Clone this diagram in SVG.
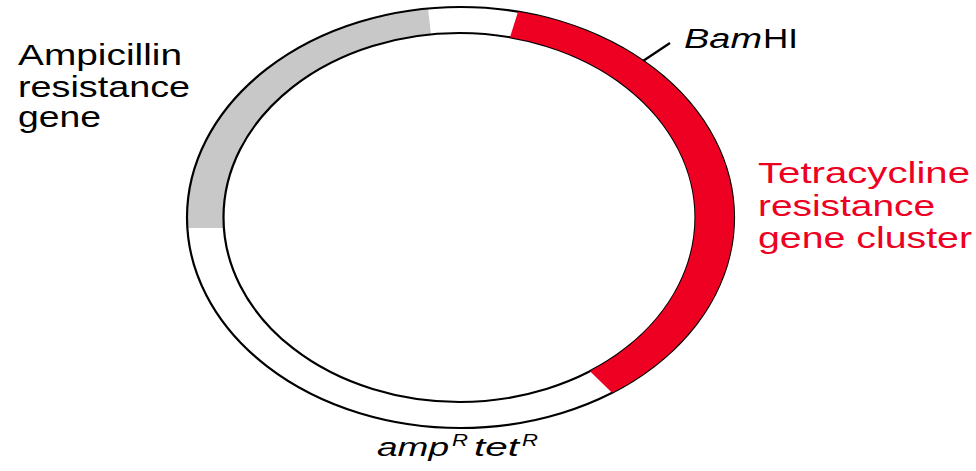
<svg xmlns="http://www.w3.org/2000/svg" width="976" height="471" viewBox="0 0 976 471">
  <style>
    .lbl { font-family: "Liberation Sans", Arial, sans-serif; }
    .blk { fill: #000; }
    .red { fill: #ED0022; }
    .it { font-style: italic; }
    .ring { fill: none; stroke: #000; stroke-width: 2.2; }
  </style>
  <rect width="976" height="471" fill="#fff"/>

  <!-- plasmid ring -->
  <g id="plasmid">
    <!-- ampicillin resistance segment -->
    <path id="amp-segment" d="M 187.3,228 A 273.5 210.5 0 0 1 428,8.5 L 431,34.4 A 236 184.5 0 0 0 223.9,228 Z" fill="#C8C8C8"/>
    <ellipse class="ring" cx="460.5" cy="217.5" rx="273.5" ry="210.5"/>
    <ellipse class="ring" cx="459.5" cy="217.5" rx="236" ry="184.5"/>
    <!-- tetracycline resistance segment -->
    <path id="tet-segment" d="M 518,11.7 A 273.5 210.5 0 0 1 612,392.8 L 590,371.2 A 236 184.5 0 0 0 510,37.3 Z" fill="#ED0022"/>
  </g>

  <!-- restriction site marker -->
  <g id="connectors">
    <line x1="643" y1="61" x2="670" y2="43" stroke="#000" stroke-width="2.2"/>
  </g>

  <g id="label-amp" class="lbl blk" font-size="30">
    <text x="18" y="65" textLength="164" lengthAdjust="spacingAndGlyphs">Ampicillin</text>
    <text x="18" y="97" textLength="172" lengthAdjust="spacingAndGlyphs">resistance</text>
    <text x="18" y="127" textLength="83" lengthAdjust="spacingAndGlyphs">gene</text>
  </g>

  <g id="label-tet" class="lbl red" font-size="30">
    <text x="758" y="183" textLength="212" lengthAdjust="spacingAndGlyphs">Tetracycline</text>
    <text x="758" y="216" textLength="177" lengthAdjust="spacingAndGlyphs">resistance</text>
    <text x="758" y="248" textLength="214" lengthAdjust="spacingAndGlyphs">gene cluster</text>
  </g>

  <g id="label-bamhi" class="lbl blk" font-size="27">
    <text class="it" x="684" y="48" textLength="78" lengthAdjust="spacingAndGlyphs">Bam</text>
    <text x="763" y="48" textLength="35" lengthAdjust="spacingAndGlyphs">HI</text>
  </g>

  <g id="label-plasmid" class="lbl blk it">
    <text x="377" y="456" font-size="26" textLength="72" lengthAdjust="spacingAndGlyphs">amp</text>
    <text x="452" y="446" font-size="17" textLength="16" lengthAdjust="spacingAndGlyphs">R</text>
    <text x="474" y="456" font-size="26" textLength="45" lengthAdjust="spacingAndGlyphs">tet</text>
    <text x="522" y="446" font-size="17" textLength="16" lengthAdjust="spacingAndGlyphs">R</text>
  </g>
</svg>
